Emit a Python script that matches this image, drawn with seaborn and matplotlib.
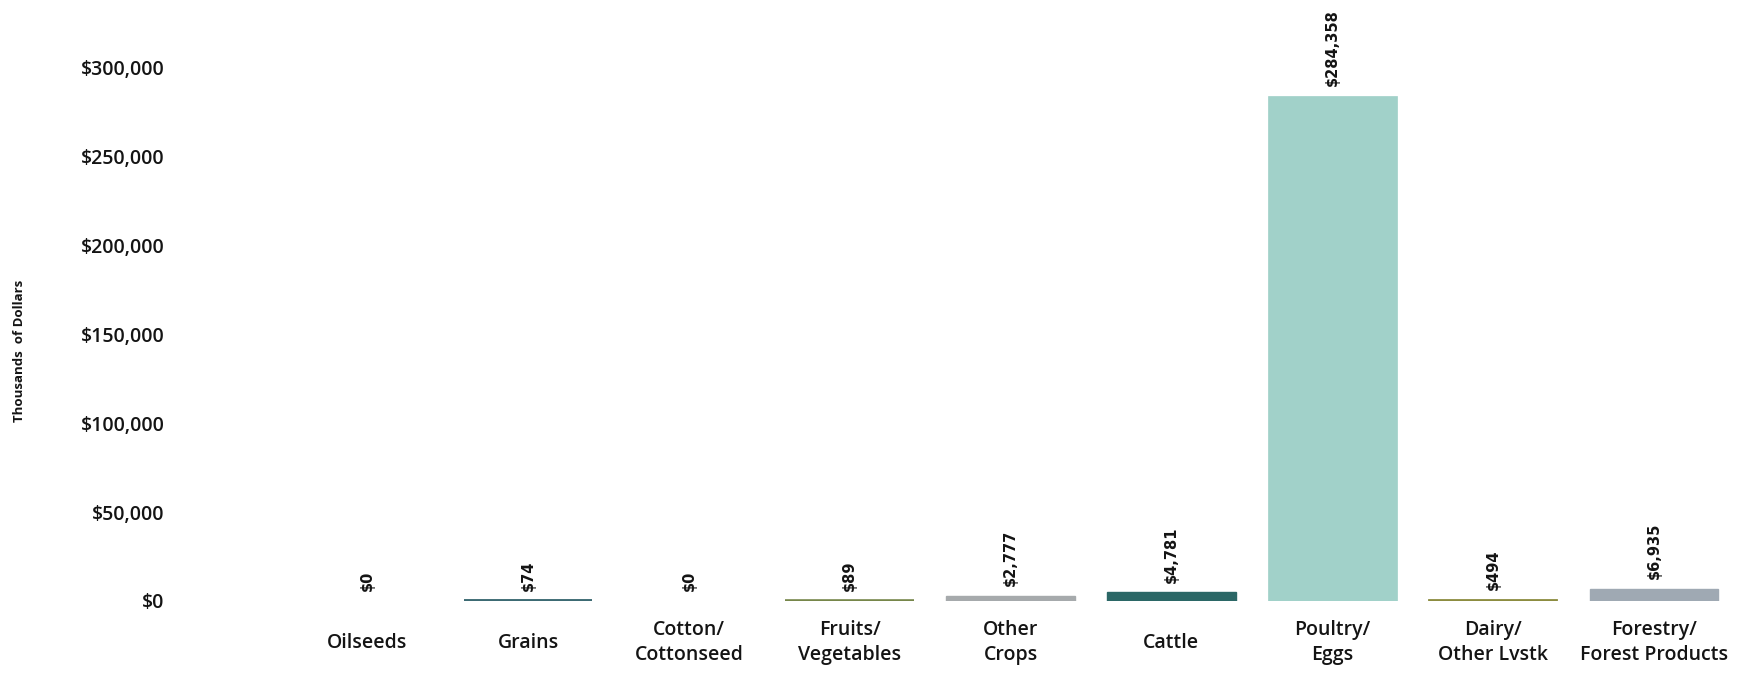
import matplotlib
matplotlib.use("Agg")
import matplotlib.pyplot as plt
import seaborn as sns
import pandas as pd
from matplotlib.ticker import FuncFormatter

categories = ["Oilseeds", "Grains", "Cotton/\nCottonseed", "Fruits/\nVegetables", "Other\nCrops",
              "Cattle", "Poultry/\nEggs", "Dairy/\nOther Lvstk", "Forestry/\nForest Products"]
values = [0, 74, 0, 89, 2777, 4781, 284358, 494, 6935]
colors = ["#5a7f8a", "#3c6a73", "#8a9a8f", "#76864a", "#a6aaac", "#2b6766", "#a1d1c9", "#8c8c40", "#9fa9b3"]
yticks = [0, 50000, 100000, 150000, 200000, 250000, 300000]
edge_widths = [0, 2.8, 0, 2.6, 1.0, 1.0, 0.5, 1.3, 1.0]

df = pd.DataFrame({"category": categories, "value": values})

sns.set_theme(style="white")
plt.rcParams['font.family'] = ['Open Sans', 'DejaVu Sans']

fig = plt.figure(figsize=(17.46, 6.73), dpi=100)
ax = fig.add_axes([0.1643, 0.107, 0.829, 0.792])

sns.barplot(data=df, x="category", y="value", hue="category", palette=colors,
            width=0.8, legend=False, ax=ax, saturation=1)

for patch, c, lw in zip(ax.patches, colors, edge_widths):
    patch.set_edgecolor(c)
    patch.set_linewidth(lw)

ax.set_ylim(0, 300000)
ax.set_xlim(-0.5, len(categories) - 0.5)
ax.set_yticks(yticks)
ax.yaxis.set_major_formatter(FuncFormatter(lambda v, p: f"${v:,.0f}"))
ax.tick_params(axis="y", length=0, pad=88, labelsize=14, labelcolor="#141414")
ax.tick_params(axis="x", length=0, pad=30, labelsize=14, labelcolor="#141414")
for lbl in ax.get_yticklabels():
    lbl.set_fontweight("semibold")
for lbl in ax.get_xticklabels():
    lbl.set_fontweight("semibold")
    lbl.set_verticalalignment("center")
    lbl.set_linespacing(1.35)
ax.set_xlabel("")
ax.set_ylabel("Thousands  of Dollars", fontsize=9.5, fontweight="bold", color="#141414")
ax.yaxis.set_label_coords(-0.180, 0.469)
sns.despine(ax=ax, left=True, bottom=True)

for i, v in enumerate(values):
    ax.annotate(f"${v:,.0f}", xy=(i, v), xytext=(0, 7), textcoords="offset points",
                rotation=90, ha="center", va="bottom", fontsize=10.5, fontweight="bold",
                family="DejaVu Sans", color="#141414", annotation_clip=False)

fig.savefig("out.png", dpi=100, facecolor="white")
